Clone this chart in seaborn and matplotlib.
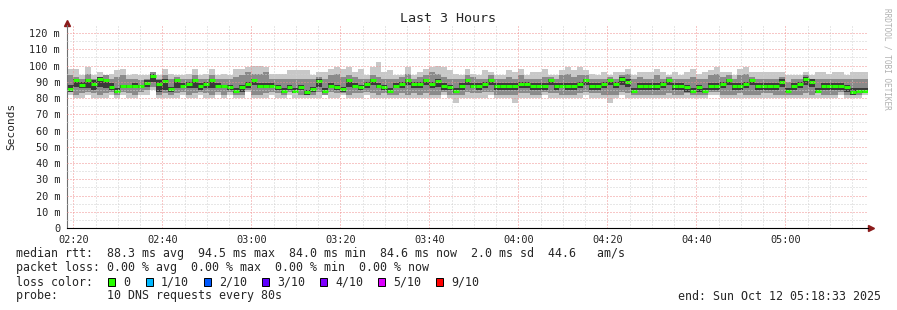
import numpy as np
import pandas as pd
import matplotlib
matplotlib.use("Agg")
import matplotlib.pyplot as plt
from matplotlib.patches import Rectangle
import seaborn as sns

# ---------------- data ----------------
title = "Last 3 Hours"
start_time = "02:18:33"
step_seconds = 80
x_tick_labels = ["02:20", "02:40", "03:00", "03:20", "03:40", "04:00", "04:20", "04:40", "05:00"]
y_ticks = [0, 10, 20, 30, 40, 50, 60, 70, 80, 90, 100, 110, 120]
y_tick_labels = ["0", "10 m", "20 m", "30 m", "40 m", "50 m", "60 m", "70 m", "80 m",
                 "90 m", "100 m", "110 m", "120 m"]

median_ms = [
    85.5, 91, 88, 91, 88.5, 91.7, 91, 87, 84.5, 87.4, 87.4, 87.4, 87.4, 89, 93.7, 88.6, 90.5, 85.3, 91, 87.4, 88.4, 90.9, 87.4, 88.6, 91, 87.4, 87.4,
    86.6, 84.5, 86.6, 88.4, 91, 87.4, 87.4, 87.4, 86.6, 84.5, 86.6, 84.5, 86.6, 83.5, 85.3, 90.5, 84.5, 87.4, 86.6, 85.3, 91, 87.4, 86.6, 88.4, 91, 87.4, 86.6,
    84.5, 87.4, 88.4, 91, 88.4, 88.4, 91, 88.4, 90.5, 87.4, 86.6, 84.5, 87.4, 91, 87.4, 87.4, 88.4, 91, 87.4, 87.4, 87.4, 87.4, 88.4, 88.4, 87.4, 87.4, 87.4,
    91, 87.4, 87.4, 87.4, 87.4, 88.4, 91, 87.4, 87.4, 88.4, 91, 88.4, 91.7, 90, 84.5, 87.4, 87.4, 87.4, 87.4, 88.4, 91, 87.4, 87.4, 86.6, 84.5, 86.6, 84.5,
    87.4, 87.4, 88.4, 91, 87.4, 87.4, 88.4, 91, 87.4, 87.4, 87.4, 87.4, 90, 84.5, 87.4, 88.4, 91.7, 90, 84.5, 87.4, 87.4, 87.4, 87.4, 86.6, 83.5, 84.3, 84.3,
]
outer_hi = [
    98, 98, 94, 99, 94, 96, 94, 95, 97, 98, 94, 95, 94, 94, 95, 94, 98, 95, 94, 94, 95, 98, 94, 95, 98, 94, 95,
    94, 98, 98, 99, 100, 100, 99, 95, 95, 95, 97, 97, 97, 97, 94, 96, 96, 98, 99, 98, 99, 96, 98, 94, 99, 102, 96,
    97, 94, 94, 99, 94, 96, 98, 99, 100, 99, 97, 95, 94, 98, 95, 94, 97, 96, 94, 94, 97, 96, 98, 94, 96, 96, 98,
    94, 94, 97, 99, 97, 99, 97, 95, 94, 96, 94, 96, 96, 98, 94, 96, 96, 96, 98, 96, 94, 96, 94, 96, 98, 95, 96,
    97, 99, 96, 96, 94, 98, 99, 96, 96, 96, 96, 96, 96, 94, 94, 94, 96, 94, 96, 96, 95, 96, 96, 94, 96, 96, 96,
]
outer_lo = [
    82, 80, 80, 82, 80, 80, 80, 82, 80, 82, 80, 80, 82, 82, 85, 80, 80, 80, 80, 82, 80, 80, 82, 80, 80, 82, 80,
    82, 80, 80, 84, 80, 80, 80, 82, 80, 80, 82, 80, 80, 80, 80, 80, 82, 80, 80, 82, 80, 80, 80, 82, 80, 80, 80,
    80, 80, 80, 80, 80, 80, 80, 80, 80, 82, 80, 77, 80, 80, 80, 80, 80, 82, 80, 80, 80, 77, 80, 80, 80, 80, 82,
    80, 80, 80, 80, 80, 80, 82, 80, 80, 80, 77, 80, 82, 80, 80, 80, 80, 80, 80, 80, 80, 80, 80, 80, 80, 80, 80,
    82, 82, 80, 80, 80, 80, 80, 80, 80, 80, 80, 80, 80, 80, 80, 80, 80, 80, 80, 80, 80, 80, 82, 80, 80, 80, 82,
]
mid_hi = [
    94, 93, 92, 95, 92, 93, 94, 92, 93, 94, 92, 92, 91, 92, 96, 92, 94, 92, 93, 92, 92, 94, 92, 92, 94, 92, 92,
    92, 93, 94, 96, 95, 95, 96, 92, 92, 92, 92, 92, 92, 92, 92, 93, 92, 94, 95, 93, 94, 93, 92, 92, 94, 93, 92,
    92, 92, 93, 95, 92, 93, 94, 96, 95, 93, 92, 92, 92, 94, 93, 92, 92, 94, 92, 92, 93, 92, 94, 92, 92, 92, 93,
    93, 92, 94, 95, 93, 94, 94, 92, 92, 92, 93, 92, 94, 95, 92, 93, 92, 92, 94, 92, 93, 92, 92, 92, 93, 92, 92,
    94, 95, 93, 94, 92, 94, 95, 93, 92, 92, 92, 92, 93, 90, 92, 92, 94, 92, 92, 92, 92, 92, 92, 92, 92, 92, 92,
]
mid_lo = [
    84, 82, 83, 84, 83, 82, 83, 84, 82, 84, 83, 82, 84, 85, 87, 82, 83, 82, 83, 84, 82, 83, 84, 83, 82, 84, 82,
    84, 82, 82, 85, 82, 82, 83, 84, 83, 82, 84, 83, 82, 82, 82, 84, 82, 84, 83, 83, 82, 83, 83, 84, 83, 82, 83,
    82, 82, 83, 82, 83, 82, 83, 82, 82, 84, 82, 82, 82, 84, 83, 83, 84, 84, 82, 82, 82, 82, 83, 83, 82, 82, 84,
    83, 83, 82, 82, 82, 83, 84, 83, 83, 82, 82, 82, 84, 83, 82, 82, 82, 82, 82, 82, 83, 82, 82, 83, 82, 82, 82,
    84, 84, 82, 82, 82, 83, 82, 82, 82, 83, 83, 82, 82, 82, 82, 82, 83, 82, 83, 82, 82, 82, 84, 82, 82, 82, 84,
]
inner_hi = [
    88, 92, 90, 92, 91, 93, 92, 89, 86, 88, 88, 89, 88, 91, 95, 91, 92, 87, 92, 89, 90, 92, 89, 90, 92, 89, 88,
    88, 86, 88, 90, 92, 89, 89, 89, 88, 86, 88, 86, 88, 85, 87, 92, 86, 89, 88, 87, 92, 89, 88, 90, 92, 89, 88,
    86, 89, 90, 92, 90, 90, 92, 90, 92, 89, 88, 86, 89, 92, 89, 89, 90, 92, 89, 89, 89, 89, 90, 90, 89, 89, 89,
    92, 89, 89, 89, 89, 90, 92, 89, 89, 90, 92, 90, 93, 92, 86, 89, 89, 89, 89, 90, 92, 89, 89, 88, 86, 88, 86,
    89, 89, 90, 92, 89, 89, 90, 92, 89, 89, 89, 89, 92, 86, 89, 90, 93, 92, 86, 89, 89, 89, 89, 88, 86, 86, 86,
]
inner_lo = [
    84, 87, 86, 86, 85, 87, 86, 85, 83, 86, 86, 86, 86, 87, 90, 84, 85, 84, 86, 86, 86, 86, 85, 86, 86, 86, 86,
    85, 83, 84, 86, 88, 86, 86, 86, 85, 83, 85, 83, 85, 82, 84, 87, 83, 86, 85, 84, 87, 86, 85, 86, 88, 86, 85,
    83, 86, 86, 88, 86, 86, 88, 86, 87, 85, 85, 83, 85, 88, 86, 85, 86, 88, 85, 85, 85, 85, 86, 86, 85, 85, 85,
    88, 85, 86, 85, 85, 86, 88, 85, 85, 86, 88, 86, 88, 87, 83, 85, 85, 85, 85, 86, 88, 85, 85, 84, 83, 84, 83,
    85, 85, 86, 88, 85, 85, 86, 88, 85, 85, 85, 85, 87, 83, 85, 86, 88, 87, 83, 85, 85, 85, 85, 84, 82, 83, 83,
]

stats_line = "median rtt:  88.3 ms avg  94.5 ms max  84.0 ms min  84.6 ms now  2.0 ms sd  44.6   am/s"
loss_line = "packet loss: 0.00 % avg  0.00 % max  0.00 % min  0.00 % now"
loss_labels = ["0", "1/10", "2/10", "3/10", "4/10", "5/10", "9/10"]
loss_colors = ["#26ff00", "#00b8ff", "#0059ff", "#5e00ff", "#7e00ff", "#dd00ff", "#ff0000"]
probe_line = "probe:       10 DNS requests every 80s"
end_line = "end: Sun Oct 12 05:18:33 2025"
watermark = "RRDTOOL / TOBI OETIKER"

# ---------------- figure ----------------
sns.set_style("white")
plt.rcParams["font.family"] = ["DejaVu Sans Mono", "DejaVu Sans"]

W, H = 897, 310
fig = plt.figure(figsize=(W / 100, H / 100), dpi=100)
ax_left, ax_right, ax_top, ax_bottom = 67, 868, 25, 228
ax = fig.add_axes([ax_left / W, (H - ax_bottom) / H, (ax_right - ax_left) / W, (ax_bottom - ax_top) / H])


def hms_to_min(s):
    parts = [int(p) for p in s.split(":")]
    while len(parts) < 3:
        parts.append(0)
    return parts[0] * 60 + parts[1] + parts[2] / 60


t0 = hms_to_min(start_time)
n = len(median_ms)
step_min = step_seconds / 60.0
t = np.arange(n + 1) * step_min


def ext(a):
    a = np.asarray(a, dtype=float)
    return np.append(a, a[-1])


ax.fill_between(t, ext(outer_lo), ext(outer_hi), step="post", color="#c8c8c8", lw=0, zorder=1)
ax.fill_between(t, ext(mid_lo), ext(mid_hi), step="post", color="#8a8a8a", lw=0, zorder=1.1)
ax.fill_between(t, ext(inner_lo), ext(inner_hi), step="post", color="#3a3a3a", lw=0, zorder=1.2)

# median drawn as separate horizontal segments (one unit per time step)
seg_t, seg_v, seg_u = [], [], []
for i, v in enumerate(median_ms):
    seg_t += [t[i], t[i + 1]]
    seg_v += [v, v]
    seg_u += [i, i]
df = pd.DataFrame({"t": seg_t, "median": seg_v, "step": seg_u})
sns.lineplot(data=df, x="t", y="median", units="step", estimator=None, color="#26ff00",
             lw=2.2, solid_capstyle="butt", ax=ax, zorder=2, legend=False)

ax.set_xlim(0, n * step_min)
ax.set_ylim(0, 125)

major_x = [hms_to_min(l) - t0 for l in x_tick_labels]
minor_x = np.arange(major_x[0], n * step_min, 5.0)
ax.set_xticks(major_x)
ax.set_xticklabels(x_tick_labels)
ax.set_xticks(minor_x, minor=True)
ax.set_yticks(y_ticks)
ax.set_yticklabels(y_tick_labels)
ax.set_yticks(np.arange(5, 125, 5), minor=True)
ax.set_xlabel("")
ax.set_ylabel("")

ax.set_axisbelow(False)
ax.grid(which="minor", color="#d0d0d0", linestyle=(0, (1, 2)), lw=0.72)
ax.grid(which="major", color="#f09090", linestyle=(0, (1, 2)), lw=0.72)

ax.tick_params(axis="both", which="major", labelsize=7.4, length=2, color="#888888", pad=3)
ax.tick_params(axis="both", which="minor", length=0)
for s in ["top", "right"]:
    ax.spines[s].set_visible(False)
ax.spines["left"].set_color("#707070")
ax.spines["left"].set_linewidth(0.8)
ax.spines["bottom"].set_color("#000000")
ax.spines["bottom"].set_linewidth(0.8)

ax.plot([0], [1.012], marker="^", ms=4, color="#8b1a1a", transform=ax.transAxes, clip_on=False)
ax.plot([1.004], [0], marker=">", ms=4, color="#8b1a1a", transform=ax.transAxes, clip_on=False)


def fx(x):
    return x / W


def fy(y):
    return 1 - y / H


fig.text(fx(448), fy(19), title, ha="center", va="center", fontsize=9.6)
fig.text(fx(11), fy(126), "Seconds", ha="center", va="center", rotation=90, fontsize=8)
fig.text(fx(887), fy(59), watermark, ha="center", va="center", rotation=-90,
         fontsize=5.6, color="#b0b0b0")

fs = 8.4
fig.text(fx(16), fy(254), stats_line, ha="left", va="center", fontsize=fs)
fig.text(fx(16), fy(268), loss_line, ha="left", va="center", fontsize=fs)
fig.text(fx(16), fy(282), "loss color:", ha="left", va="center", fontsize=fs)
box_x = [108, 146, 204, 262, 320, 378, 436]
for bx, lab, col in zip(box_x, loss_labels, loss_colors):
    fig.add_artist(Rectangle((fx(bx), fy(286)), 7 / W, 8 / H, transform=fig.transFigure,
                             facecolor=col, edgecolor="black", lw=0.7))
    fig.text(fx(bx + 15), fy(282), lab, ha="left", va="center", fontsize=fs)
fig.text(fx(16), fy(296), probe_line, ha="left", va="center", fontsize=fs)
fig.text(fx(881), fy(296), end_line, ha="right", va="center", fontsize=fs)

fig.savefig("out.png", dpi=100)
